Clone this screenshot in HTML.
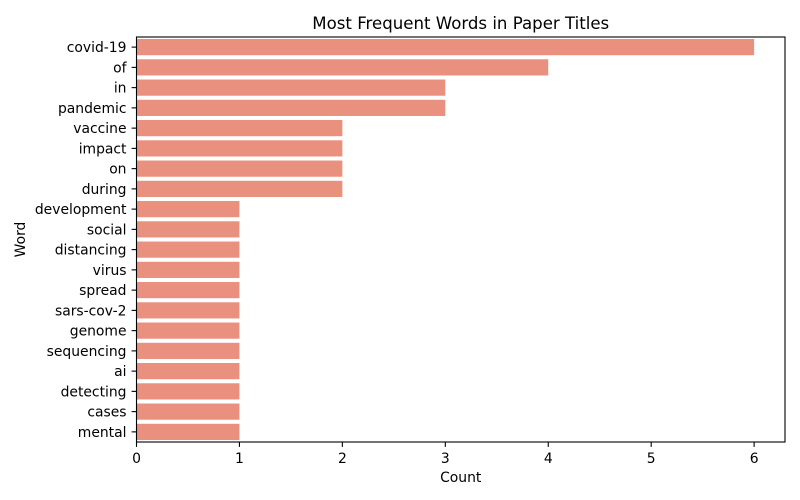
<!DOCTYPE html>
<html><head><meta charset="utf-8"><style>
body{margin:0;background:#fff}
svg{display:block;font-family:"DejaVu Sans","Liberation Sans",sans-serif}
</style></head><body>
<svg id="chart" width="800" height="500" xmlns="http://www.w3.org/2000/svg"></svg>
<script>
const categories=["covid-19","of","in","pandemic","vaccine","impact","on","during","development","social","distancing","virus","spread","sars-cov-2","genome","sequencing","ai","detecting","cases","mental"];
const counts=[6,4,3,3,2,2,2,2,1,1,1,1,1,1,1,1,1,1,1,1];
const xTicks=[0,1,2,3,4,5,6];
const NS="http://www.w3.org/2000/svg";
const svg=document.getElementById('chart');
const L=136.5,R=785,T=37,B=442,xmax=6.3;
const xs=v=>L+(v/xmax)*(R-L);
const band=(B-T)/categories.length;
const yc=i=>T+band*(i+0.5);
function mk(tag,attrs,text){const e=document.createElementNS(NS,tag);for(const k in attrs)e.setAttribute(k,attrs[k]);if(text!==undefined)e.textContent=text;svg.appendChild(e);return e;}
categories.forEach((c,i)=>{
  const r=mk('rect',{x:xs(0),y:yc(i)-band*0.4,width:xs(counts[i])-xs(0),height:band*0.8,fill:'#e9907f'});
  
  
  const tk=mk('line',{x1:L-4.9,x2:L,y1:yc(i),y2:yc(i),stroke:'#000','stroke-width':1.1});
  
  
  const t=mk('text',{x:L-10,y:yc(i)+5,'text-anchor':'end','font-size':13.9},c);
  
  
});
xTicks.forEach(v=>{
  const tk=mk('line',{x1:xs(v),x2:xs(v),y1:B,y2:B+4.9,stroke:'#000','stroke-width':1.1});
  
  
  const t=mk('text',{x:xs(v),y:B+21,'text-anchor':'middle','font-size':13.9},String(v));
  
  
});
const fr=mk('rect',{x:L,y:T,width:R-L,height:B-T,fill:'none',stroke:'#000','stroke-width':1.1});


const ti=mk('text',{x:(L+R)/2,y:29,'text-anchor':'middle','font-size':16.6},'Most Frequent Words in Paper Titles');


const xl=mk('text',{x:(L+R)/2,y:482,'text-anchor':'middle','font-size':13.9},'Count');


const yl=mk('text',{x:0,y:0,'text-anchor':'middle','font-size':13.9,transform:'translate(25,'+((T+B)/2)+') rotate(-90)'},'Word');


</script>
</body></html>
